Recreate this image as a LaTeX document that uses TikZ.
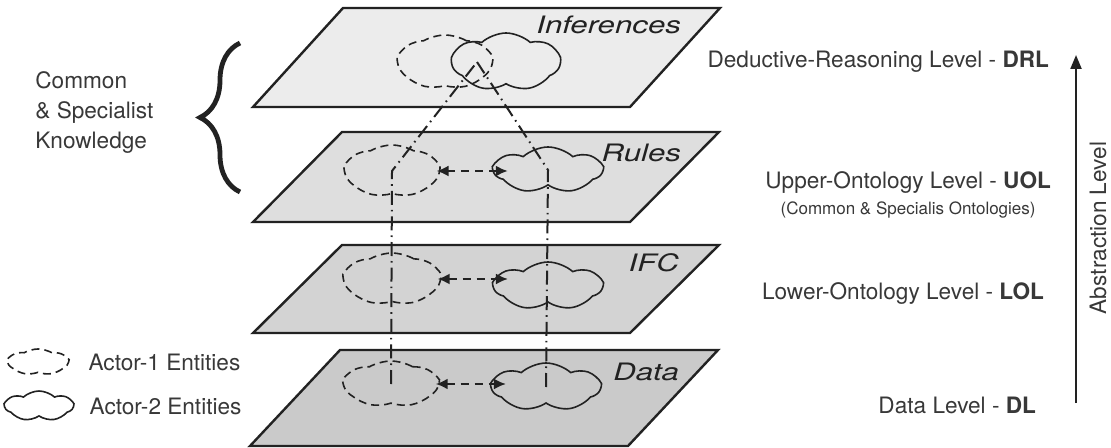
\documentclass[tikz,border=0pt]{standalone}
\usepackage{amsmath}
\usepackage{graphicx}
\usepackage{fontspec}
\setmainfont{TeX Gyre Heros}
\usepackage{tikz}
\usetikzlibrary{shapes.symbols,arrows.meta,positioning,decorations.pathreplacing}
\definecolor{inkc}{HTML}{222222}
\definecolor{txtc}{HTML}{383838}
\definecolor{infc}{HTML}{ECECEC}
\definecolor{rulc}{HTML}{DEDEDE}
\definecolor{ifcc}{HTML}{D3D3D3}
\definecolor{datc}{HTML}{CACACA}

\begin{document}
\begin{tikzpicture}[x=0.5pt,y=-0.5pt,font=\fontsize{11.3}{15}\selectfont,text=txtc]
\tikzstyle{plane}=[draw=inkc,line width=1.2pt,line join=miter]
\tikzstyle{actorone}=[shape=cloud,cloud puffs=7,cloud puff arc=60,cloud ignores aspect,draw=inkc,line width=0.8pt,dash pattern=on 4pt off 2.5pt,inner sep=0pt]
\tikzstyle{actortwo}=[shape=cloud,cloud puffs=7,cloud puff arc=85,cloud ignores aspect,draw=inkc,line width=0.8pt,inner sep=0pt]
\tikzstyle{link}=[draw=inkc,line width=1.1pt,dash pattern=on 4pt off 3pt,shorten <=-2pt,shorten >=-8pt,{Latex[length=6pt,width=5.5pt]}-{Latex[length=6pt,width=5.5pt]}]
\tikzstyle{trace}=[draw=inkc,line width=1pt,dash pattern=on 7pt off 2.5pt on 0.8pt off 2.5pt]
\tikzstyle{layername}=[anchor=east,font=\fontsize{12}{14}\selectfont\itshape,text=inkc]
\tikzstyle{levelname}=[anchor=east]
\useasboundingbox (0,0) rectangle (1111,448);

% layers, bottom to top
\filldraw[plane,fill=datc] (340,350) -- (718,350) -- (628,446) -- (250,446) -- cycle;
\filldraw[plane,fill=ifcc] (342,245) -- (719,245) -- (630,333) -- (253,333) -- cycle;
\filldraw[plane,fill=rulc] (342,132) -- (719,132) -- (630,222) -- (253,222) -- cycle;
\filldraw[plane,fill=infc] (343,8) -- (720,8) -- (630,107) -- (253,107) -- cycle;

\node[layername] (infname) at (688,25) {\scalebox{1.3}[1]{Inferences}};
\node[layername] (rulname) at (688,153) {\scalebox{1.3}[1]{Rules}};
\node[layername] (ifcname) at (686,263) {\scalebox{1.3}[1]{IFC}};
\node[layername] (datname) at (686,372) {\scalebox{1.3}[1]{Data}};

% entities
\node[actorone,minimum width=47pt,minimum height=27pt] (inf-a1) at (445,62) {};
\node[actortwo,minimum width=54pt,minimum height=29pt] (inf-a2) at (506,62) {};
\node[actorone,minimum width=47pt,minimum height=26pt] (rul-a1) at (392,171) {};
\node[actortwo,minimum width=54pt,minimum height=23pt] (rul-a2) at (548,170) {};
\node[actorone,minimum width=48pt,minimum height=26pt] (ifc-a1) at (392,279) {};
\node[actortwo,minimum width=54pt,minimum height=24pt] (ifc-a2) at (548,286) {};
\node[actorone,minimum width=47pt,minimum height=23pt] (dat-a1) at (391,384) {};
\node[actortwo,minimum width=54pt,minimum height=24pt] (dat-a2) at (546,387) {};

\draw[link] (rul-a1.east) -- (rul-a1.east -| rul-a2.west);
\draw[link] (ifc-a1.east) -- (ifc-a1.east -| ifc-a2.west);
\draw[link] (dat-a1.east) -- (dat-a1.east -| dat-a2.west);

\coordinate (apex) at (477,62);
\draw[trace] (dat-a1.center) -- (rul-a1.center) -- (apex);
\draw[trace] (dat-a2.center) -- (rul-a2.center) -- (apex);

% knowledge brace
\node[anchor=west,align=left,inner sep=0pt] (know) at (35,113) {Common\\\& Specialist\\Knowledge};
\draw[decorate,decoration={brace,amplitude=20pt},draw=inkc,line width=2.4pt] (240,192) -- (240,43);

% legend
\node[actorone,minimum width=30pt,minimum height=13pt] (leg-a1) at (38,362) {};
\node[actortwo,minimum width=34pt,minimum height=15pt] (leg-a2) at (39,406) {};
\node[right=6pt of leg-a1] (leg1) {Actor-1 Entities};
\node[right=4pt of leg-a2] (leg2) {Actor-2 Entities};

% levels
\node[levelname] (drl) at (1056,62) {Deductive-Reasoning Level - \textbf{DRL}};
\node[levelname] (uol) at (1058,183) {Upper-Ontology Level - \textbf{UOL}};
\node[below=-3pt of uol,font=\fontsize{8.5}{10}\selectfont] (uolsub) {(Common \& Specialis Ontologies)};
\node[levelname] (lol) at (1051,294) {Lower-Ontology Level - \textbf{LOL}};
\node[levelname] (dl) at (1043,405) {Data Level - \textbf{DL}};

\coordinate (abslo) at (1076,403);
\coordinate (abshi) at (1076,55);
\draw[draw=inkc,line width=1.1pt,-{Triangle[length=7pt,width=5.5pt]}] (abslo) -- (abshi);
\node[rotate=90] (abs) at (1098,228) {Abstraction Level};
\end{tikzpicture}
\end{document}
